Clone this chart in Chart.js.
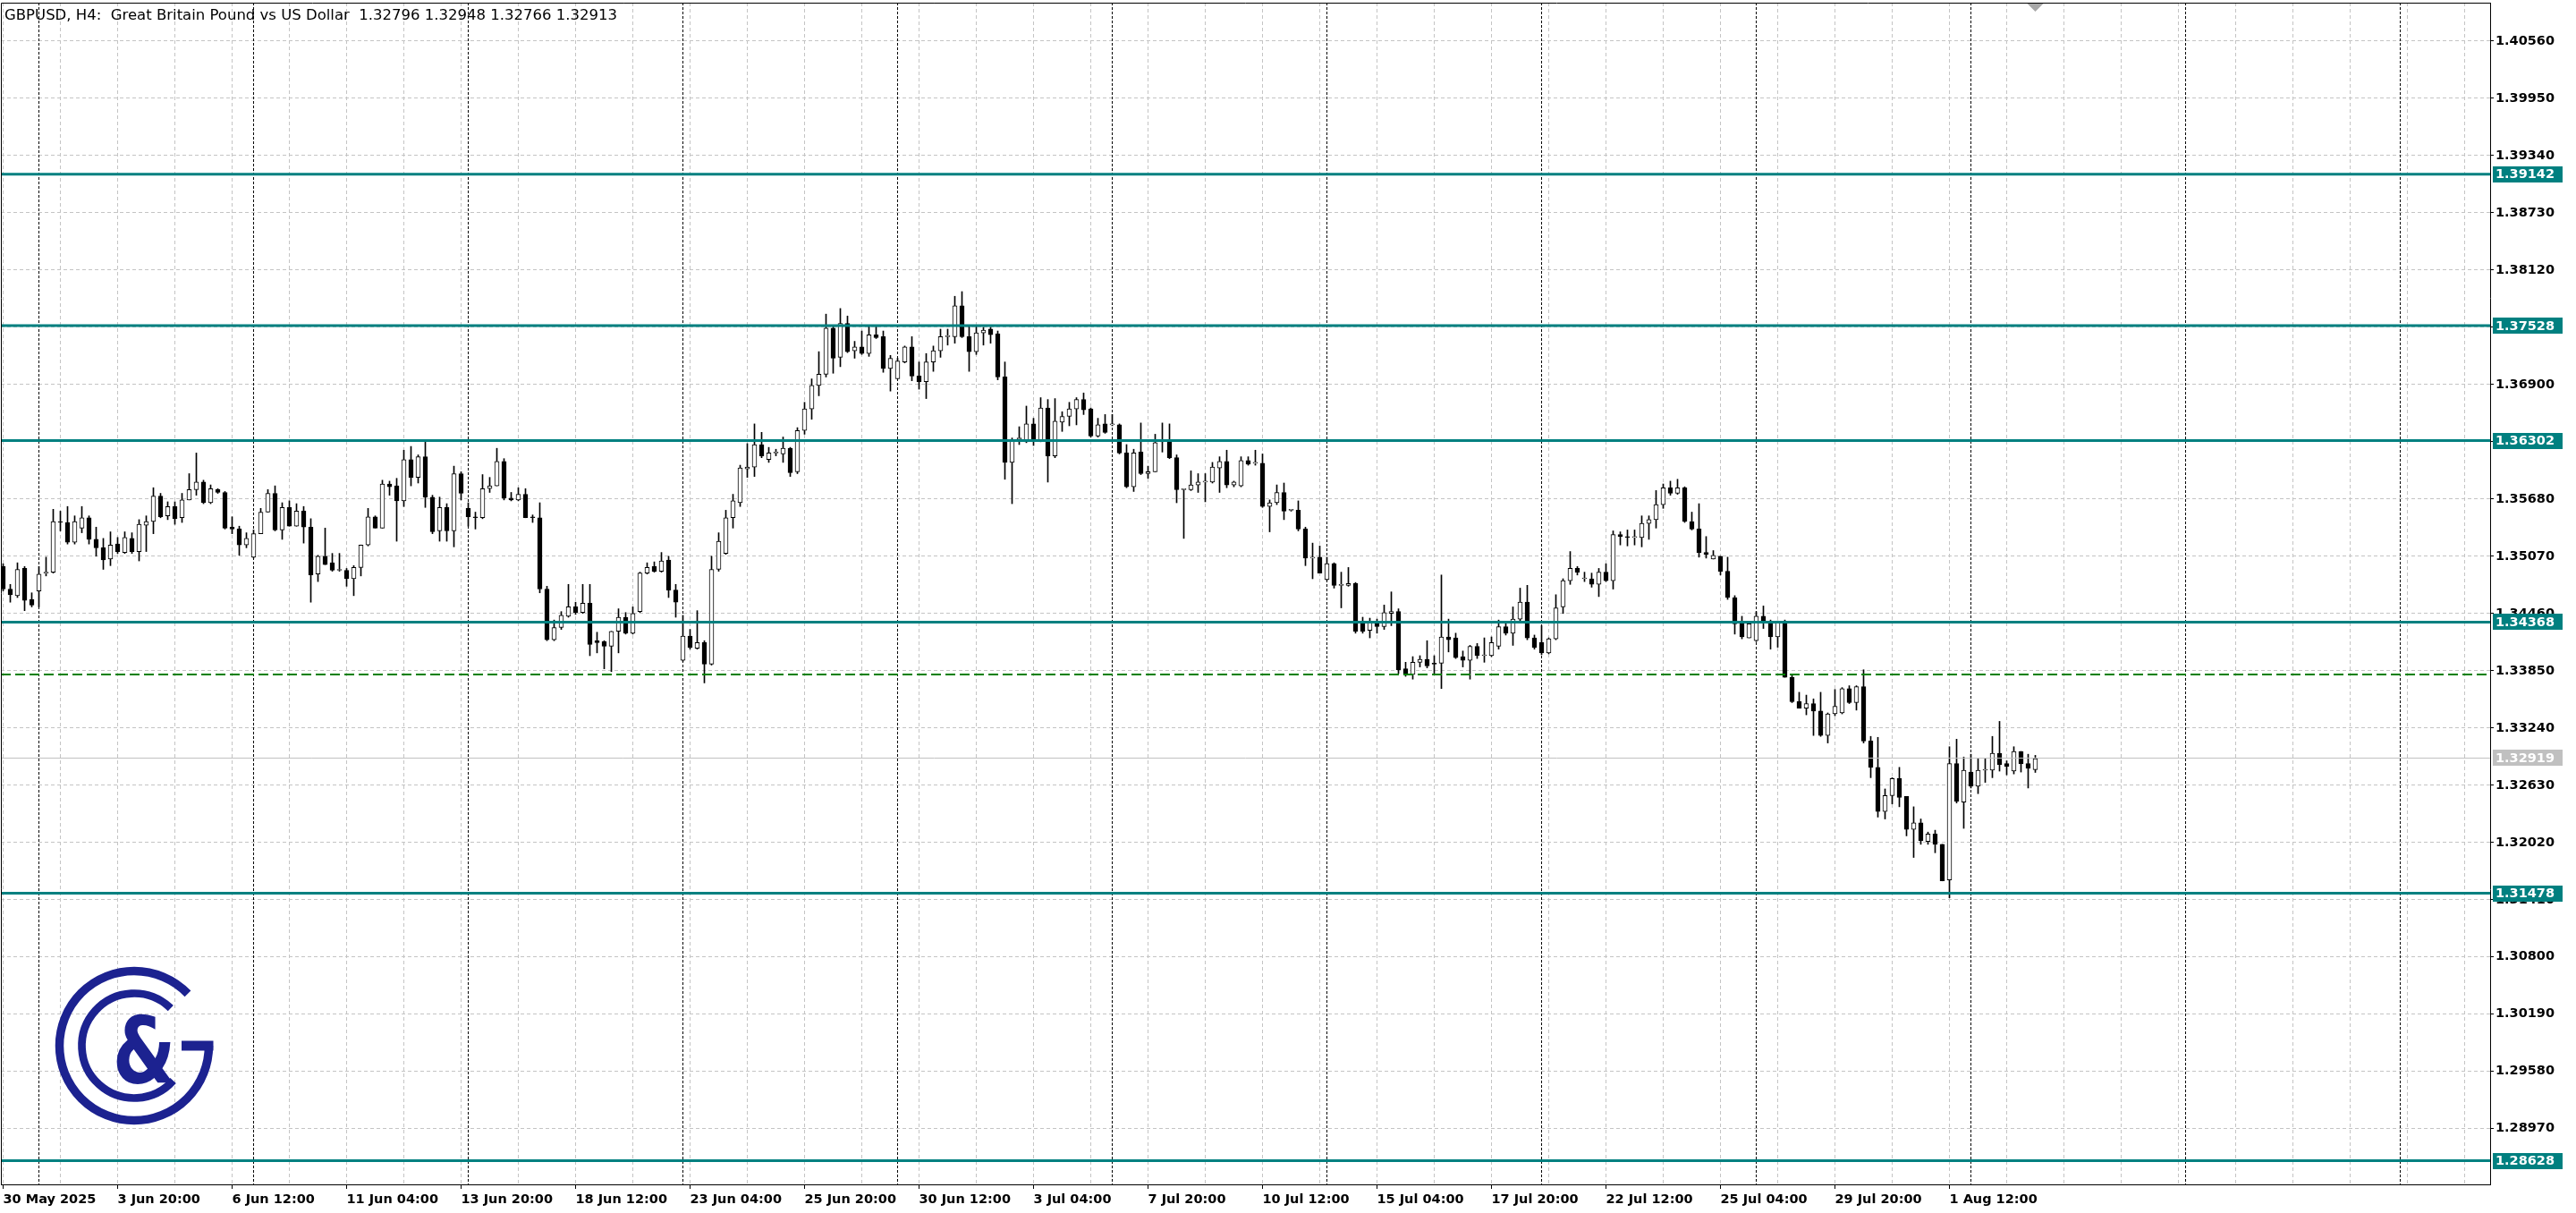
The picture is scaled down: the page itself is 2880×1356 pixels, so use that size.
<!DOCTYPE html>
<html lang="en">
<head>
<meta charset="utf-8">
<title>GBPUSD, H4</title>
<script src="https://cdn.jsdelivr.net/npm/chart.js@4.4.1/dist/chart.umd.min.js"></script>
<style>
  html, body { margin: 0; padding: 0; background: #ffffff; overflow: hidden; }
  #chart { display: block; }
</style>
</head>
<body>
<canvas id="chart" width="2880" height="1356"></canvas>
<script>
// H4 bars, index 0 = 30 May 2025 04:00 ... last = 5 Aug 2025 12:00
const opens = [
  1.3496, 1.3472, 1.3465, 1.3494, 1.3461, 1.3470, 1.3489, 1.3490, 1.3544, 1.3543,
  1.3522, 1.3537, 1.3548, 1.3525, 1.3516, 1.3504, 1.3520, 1.3511, 1.3526, 1.3512,
  1.3540, 1.3544, 1.3571, 1.3550, 1.3560, 1.3548, 1.3567, 1.3578, 1.3586, 1.3564,
  1.3578, 1.3575, 1.3538, 1.3536, 1.3519, 1.3506, 1.3531, 1.3554, 1.3574, 1.3535,
  1.3559, 1.3539, 1.3555, 1.3538, 1.3488, 1.3507, 1.3500, 1.3492, 1.3492, 1.3483,
  1.3495, 1.3519, 1.3549, 1.3537, 1.3584, 1.3582, 1.3566, 1.3610, 1.3591, 1.3613,
  1.3570, 1.3534, 1.3559, 1.3534, 1.3595, 1.3558, 1.3549, 1.3548, 1.3579, 1.3582,
  1.3608, 1.3569, 1.3567, 1.3573, 1.3549, 1.3548, 1.3472, 1.3418, 1.3431, 1.3443,
  1.3453, 1.3447, 1.3457, 1.3417, 1.3416, 1.3411, 1.3427, 1.3442, 1.3425, 1.3448,
  1.3489, 1.3496, 1.3491, 1.3503, 1.3471, 1.3396, 1.3422, 1.3409, 1.3415, 1.3392,
  1.3493, 1.3510, 1.3548, 1.3564, 1.3600, 1.3602, 1.3626, 1.3610, 1.3617, 1.3616,
  1.3622, 1.3597, 1.3641, 1.3664, 1.3689, 1.3701, 1.3750, 1.3719, 1.3755, 1.3726,
  1.3730, 1.3723, 1.3743, 1.3741, 1.3707, 1.3696, 1.3714, 1.3730, 1.3699, 1.3693,
  1.3714, 1.3726, 1.3741, 1.3741, 1.3774, 1.3741, 1.3725, 1.3745, 1.3749, 1.3744,
  1.3698, 1.3607, 1.3632, 1.3629, 1.3648, 1.3630, 1.3665, 1.3614, 1.3650, 1.3656,
  1.3664, 1.3674, 1.3664, 1.3635, 1.3648, 1.3647, 1.3647, 1.3617, 1.3581, 1.3618,
  1.3595, 1.3597, 1.3629, 1.3630, 1.3612, 1.3578, 1.3578, 1.3583, 1.3586, 1.3586,
  1.3601, 1.3608, 1.3583, 1.3582, 1.3609, 1.3606, 1.3606, 1.3560, 1.3564, 1.3575,
  1.3556, 1.3556, 1.3536, 1.3505, 1.3506, 1.3482, 1.3499, 1.3476, 1.3476, 1.3478,
  1.3436, 1.3428, 1.3436, 1.3432, 1.3446, 1.3448, 1.3387, 1.3381, 1.3394, 1.3397,
  1.3393, 1.3393, 1.3421, 1.3420, 1.3400, 1.3396, 1.3411, 1.3401, 1.3401, 1.3411,
  1.3432, 1.3425, 1.3440, 1.3458, 1.3420, 1.3415, 1.3404, 1.3419, 1.3453, 1.3481,
  1.3494, 1.3483, 1.3483, 1.3477, 1.3490, 1.3481, 1.3530, 1.3528, 1.3527, 1.3527,
  1.3542, 1.3546, 1.3562, 1.3580, 1.3574, 1.3580, 1.3544, 1.3536, 1.3511, 1.3504,
  1.3507, 1.3491, 1.3463, 1.3435, 1.3420, 1.3417, 1.3443, 1.3437, 1.3421, 1.3436,
  1.3378, 1.3352, 1.3345, 1.3350, 1.3342, 1.3316, 1.3339, 1.3340, 1.3366, 1.3351,
  1.3368, 1.3310, 1.3282, 1.3235, 1.3252, 1.3270, 1.3251, 1.3216, 1.3223, 1.3203,
  1.3211, 1.3200, 1.3162, 1.3286, 1.3245, 1.3277, 1.3262, 1.3279, 1.3279, 1.3297,
  1.3286, 1.3278, 1.3299, 1.3286, 1.32796
];
const highs = [
  1.3499, 1.3477, 1.3500, 1.3496, 1.3468, 1.3496, 1.3506, 1.3557, 1.3555, 1.3560,
  1.3550, 1.3560, 1.3550, 1.3538, 1.3526, 1.3533, 1.3527, 1.3533, 1.3532, 1.3546,
  1.3550, 1.3580, 1.3574, 1.3565, 1.3565, 1.3574, 1.3595, 1.3617, 1.3588, 1.3583,
  1.3579, 1.3576, 1.3549, 1.3539, 1.3532, 1.3535, 1.3558, 1.3578, 1.3582, 1.3564,
  1.3566, 1.3563, 1.3560, 1.3547, 1.3508, 1.3537, 1.3510, 1.3510, 1.3494, 1.3497,
  1.3519, 1.3558, 1.3550, 1.3588, 1.3587, 1.3590, 1.3620, 1.3624, 1.3615, 1.3630,
  1.3572, 1.3570, 1.3563, 1.3603, 1.3597, 1.3564, 1.3554, 1.3594, 1.3591, 1.3622,
  1.3611, 1.3575, 1.3580, 1.3579, 1.3551, 1.3564, 1.3475, 1.3439, 1.3448, 1.3477,
  1.3458, 1.3477, 1.3477, 1.3426, 1.3417, 1.3427, 1.3451, 1.3447, 1.3453, 1.3490,
  1.3500, 1.3501, 1.3511, 1.3507, 1.3477, 1.3444, 1.3429, 1.3449, 1.3417, 1.3507,
  1.3532, 1.3556, 1.3573, 1.3604, 1.3627, 1.3648, 1.3639, 1.3623, 1.3621, 1.3634,
  1.3623, 1.3644, 1.3671, 1.3696, 1.3725, 1.3765, 1.3753, 1.3771, 1.3763, 1.3736,
  1.3747, 1.3752, 1.3752, 1.3747, 1.3721, 1.3718, 1.3731, 1.3741, 1.3714, 1.3723,
  1.3731, 1.3749, 1.3749, 1.3784, 1.3789, 1.3752, 1.3752, 1.3751, 1.3751, 1.3747,
  1.3714, 1.3633, 1.3645, 1.3667, 1.3654, 1.3676, 1.3674, 1.3675, 1.3661, 1.3671,
  1.3676, 1.3681, 1.3665, 1.3654, 1.3658, 1.3658, 1.3648, 1.3626, 1.3621, 1.3649,
  1.3603, 1.3637, 1.3649, 1.3648, 1.3615, 1.3579, 1.3598, 1.3595, 1.3595, 1.3607,
  1.3613, 1.3620, 1.3587, 1.3613, 1.3613, 1.3620, 1.3616, 1.3567, 1.3583, 1.3585,
  1.3557, 1.3566, 1.3538, 1.3521, 1.3518, 1.3506, 1.3500, 1.3490, 1.3495, 1.3479,
  1.3442, 1.3441, 1.3440, 1.3455, 1.3469, 1.3451, 1.3394, 1.3400, 1.3401, 1.3417,
  1.3401, 1.3487, 1.3440, 1.3425, 1.3406, 1.3412, 1.3414, 1.3420, 1.3421, 1.3439,
  1.3437, 1.3453, 1.3473, 1.3476, 1.3423, 1.3433, 1.3420, 1.3466, 1.3483, 1.3512,
  1.3496, 1.3490, 1.3489, 1.3494, 1.3499, 1.3534, 1.3533, 1.3535, 1.3535, 1.3550,
  1.3550, 1.3577, 1.3584, 1.3587, 1.3589, 1.3581, 1.3554, 1.3563, 1.3528, 1.3513,
  1.3507, 1.3506, 1.3465, 1.3443, 1.3437, 1.3448, 1.3454, 1.3439, 1.3438, 1.3439,
  1.3380, 1.3362, 1.3359, 1.3355, 1.3362, 1.3340, 1.3365, 1.3367, 1.3369, 1.3369,
  1.3386, 1.3315, 1.3314, 1.3259, 1.3271, 1.3282, 1.3251, 1.3240, 1.3227, 1.3213,
  1.3215, 1.3200, 1.3304, 1.3312, 1.3293, 1.3296, 1.3291, 1.3291, 1.3315, 1.3331,
  1.3289, 1.3304, 1.3299, 1.3296, 1.32948
];
const lows = [
  1.3470, 1.3458, 1.3463, 1.3449, 1.3453, 1.3453, 1.3486, 1.3489, 1.3534, 1.3520,
  1.3520, 1.3532, 1.3520, 1.3507, 1.3493, 1.3497, 1.3510, 1.3510, 1.3510, 1.3502,
  1.3512, 1.3531, 1.3548, 1.3546, 1.3541, 1.3543, 1.3567, 1.3572, 1.3563, 1.3563,
  1.3574, 1.3536, 1.3531, 1.3508, 1.3516, 1.3505, 1.3531, 1.3554, 1.3534, 1.3525,
  1.3539, 1.3539, 1.3521, 1.3458, 1.3480, 1.3498, 1.3491, 1.3491, 1.3475, 1.3465,
  1.3486, 1.3518, 1.3537, 1.3537, 1.3572, 1.3523, 1.3560, 1.3582, 1.3585, 1.3559,
  1.3531, 1.3523, 1.3523, 1.3517, 1.3567, 1.3539, 1.3536, 1.3547, 1.3575, 1.3582,
  1.3567, 1.3566, 1.3566, 1.3548, 1.3543, 1.3468, 1.3417, 1.3417, 1.3429, 1.3442,
  1.3445, 1.3446, 1.3401, 1.3404, 1.3387, 1.3384, 1.3404, 1.3424, 1.3424, 1.3447,
  1.3488, 1.3490, 1.3490, 1.3463, 1.3442, 1.3395, 1.3408, 1.3408, 1.3372, 1.3391,
  1.3491, 1.3509, 1.3537, 1.3560, 1.3591, 1.3592, 1.3612, 1.3607, 1.3614, 1.3607,
  1.3592, 1.3595, 1.3637, 1.3653, 1.3678, 1.3698, 1.3702, 1.3709, 1.3724, 1.3718,
  1.3722, 1.3720, 1.3739, 1.3703, 1.3683, 1.3696, 1.3713, 1.3694, 1.3685, 1.3675,
  1.3704, 1.3719, 1.3732, 1.3734, 1.3740, 1.3704, 1.3722, 1.3732, 1.3734, 1.3695,
  1.3589, 1.3563, 1.3626, 1.3628, 1.3625, 1.3629, 1.3586, 1.3612, 1.3640, 1.3646,
  1.3647, 1.3658, 1.3634, 1.3634, 1.3638, 1.3646, 1.3616, 1.3580, 1.3576, 1.3594,
  1.3590, 1.3597, 1.3618, 1.3611, 1.3564, 1.3526, 1.3577, 1.3575, 1.3565, 1.3585,
  1.3575, 1.3580, 1.3581, 1.3581, 1.3604, 1.3604, 1.3559, 1.3533, 1.3562, 1.3546,
  1.3555, 1.3534, 1.3497, 1.3483, 1.3489, 1.3481, 1.3473, 1.3452, 1.3475, 1.3425,
  1.3425, 1.3420, 1.3425, 1.3429, 1.3433, 1.3382, 1.3379, 1.3376, 1.3389, 1.3388,
  1.3382, 1.3366, 1.3405, 1.3398, 1.3389, 1.3376, 1.3398, 1.3394, 1.3400, 1.3408,
  1.3423, 1.3412, 1.3436, 1.3418, 1.3408, 1.3402, 1.3403, 1.3418, 1.3446, 1.3477,
  1.3487, 1.3480, 1.3474, 1.3464, 1.3480, 1.3472, 1.3519, 1.3518, 1.3519, 1.3517,
  1.3525, 1.3537, 1.3558, 1.3572, 1.3573, 1.3543, 1.3535, 1.3506, 1.3505, 1.3504,
  1.3487, 1.3461, 1.3424, 1.3419, 1.3420, 1.3416, 1.3430, 1.3408, 1.3410, 1.3378,
  1.3351, 1.3345, 1.3338, 1.3316, 1.3315, 1.3308, 1.3337, 1.3339, 1.3350, 1.3343,
  1.3308, 1.3271, 1.3229, 1.3227, 1.3243, 1.3240, 1.3209, 1.3186, 1.3200, 1.3200,
  1.3191, 1.3161, 1.3143, 1.3244, 1.3217, 1.3260, 1.3254, 1.3266, 1.3271, 1.3278,
  1.3274, 1.3275, 1.3277, 1.3260, 1.32766
];
const closes = [
  1.3472, 1.3466, 1.3493, 1.3460, 1.3455, 1.3488, 1.3490, 1.3544, 1.3543, 1.3522,
  1.3544, 1.3548, 1.3525, 1.3516, 1.3503, 1.3519, 1.3512, 1.3527, 1.3512, 1.3541,
  1.3544, 1.3571, 1.3549, 1.3560, 1.3547, 1.3567, 1.3578, 1.3586, 1.3564, 1.3579,
  1.3575, 1.3537, 1.3536, 1.3519, 1.3526, 1.3531, 1.3554, 1.3574, 1.3535, 1.3559,
  1.3539, 1.3555, 1.3538, 1.3487, 1.3507, 1.3498, 1.3492, 1.3492, 1.3483, 1.3495,
  1.3519, 1.3549, 1.3537, 1.3584, 1.3581, 1.3566, 1.3610, 1.3591, 1.3613, 1.3570,
  1.3533, 1.3559, 1.3534, 1.3595, 1.3574, 1.3549, 1.3548, 1.3579, 1.3582, 1.3608,
  1.3569, 1.3567, 1.3573, 1.3548, 1.3548, 1.3472, 1.3418, 1.3431, 1.3444, 1.3453,
  1.3447, 1.3457, 1.3413, 1.3415, 1.3411, 1.3427, 1.3442, 1.3425, 1.3446, 1.3489,
  1.3495, 1.3491, 1.3502, 1.3471, 1.3458, 1.3422, 1.3410, 1.3415, 1.3392, 1.3493,
  1.3523, 1.3548, 1.3566, 1.3601, 1.3602, 1.3626, 1.3614, 1.3617, 1.3617, 1.3622,
  1.3596, 1.3641, 1.3664, 1.3689, 1.3701, 1.3750, 1.3718, 1.3755, 1.3725, 1.3730,
  1.3723, 1.3743, 1.3740, 1.3707, 1.3718, 1.3715, 1.3730, 1.3699, 1.3693, 1.3714,
  1.3726, 1.3741, 1.3741, 1.3774, 1.3741, 1.3725, 1.3745, 1.3748, 1.3743, 1.3698,
  1.3607, 1.3630, 1.3633, 1.3648, 1.3630, 1.3665, 1.3614, 1.3651, 1.3656, 1.3664,
  1.3674, 1.3663, 1.3635, 1.3647, 1.3639, 1.3647, 1.3617, 1.3581, 1.3617, 1.3595,
  1.3597, 1.3628, 1.3630, 1.3612, 1.3578, 1.3578, 1.3583, 1.3586, 1.3586, 1.3602,
  1.3608, 1.3583, 1.3586, 1.3609, 1.3605, 1.3606, 1.3560, 1.3564, 1.3575, 1.3555,
  1.3556, 1.3536, 1.3505, 1.3506, 1.3489, 1.3499, 1.3476, 1.3476, 1.3478, 1.3427,
  1.3427, 1.3436, 1.3432, 1.3447, 1.3448, 1.3386, 1.3381, 1.3394, 1.3397, 1.3390,
  1.3392, 1.3421, 1.3418, 1.3399, 1.3396, 1.3411, 1.3401, 1.3401, 1.3415, 1.3432,
  1.3425, 1.3440, 1.3458, 1.3420, 1.3410, 1.3404, 1.3419, 1.3452, 1.3481, 1.3494,
  1.3490, 1.3483, 1.3477, 1.3490, 1.3481, 1.3530, 1.3528, 1.3527, 1.3528, 1.3542,
  1.3546, 1.3562, 1.3580, 1.3574, 1.3580, 1.3544, 1.3536, 1.3511, 1.3509, 1.3508,
  1.3491, 1.3463, 1.3435, 1.3421, 1.3435, 1.3443, 1.3437, 1.3421, 1.3436, 1.3378,
  1.3352, 1.3345, 1.3350, 1.3342, 1.3316, 1.3339, 1.3347, 1.3366, 1.3351, 1.3368,
  1.3310, 1.3282, 1.3235, 1.3252, 1.3270, 1.3250, 1.3216, 1.3223, 1.3204, 1.3211,
  1.3200, 1.3161, 1.3286, 1.3246, 1.3279, 1.3262, 1.3279, 1.3279, 1.3297, 1.3285,
  1.3283, 1.3299, 1.3286, 1.3281, 1.32913
];

// time axis labels (bar index -> text)
const tickIdx = [0, 16, 32, 48, 64, 80, 96, 112, 128, 144, 160, 176, 192, 208, 224, 240, 256, 272];
const tickText = ['30 May 2025', '3 Jun 20:00', '6 Jun 12:00', '11 Jun 04:00', '13 Jun 20:00', '18 Jun 12:00',
  '23 Jun 04:00', '25 Jun 20:00', '30 Jun 12:00', '3 Jul 04:00', '7 Jul 20:00', '10 Jul 12:00',
  '15 Jul 04:00', '17 Jul 20:00', '22 Jul 12:00', '25 Jul 04:00', '29 Jul 20:00', '1 Aug 12:00'];
// Monday bars (period separators)
const weekStarts = [5, 35, 65, 95, 125, 155, 185, 215, 245, 275, 305, 335];

const priceTicks = [1.28970, 1.29580, 1.30190, 1.30800, 1.31410, 1.32020, 1.32630, 1.33240, 1.33850, 1.34460,
  1.35070, 1.35680, 1.36290, 1.36900, 1.37510, 1.38120, 1.38730, 1.39340, 1.39950, 1.40560];
const levels = [1.39142, 1.37528, 1.36302, 1.34368, 1.31478, 1.28628];
const dashedLevel = 1.3381;
const bidPrice = 1.32919;
const titleText = 'GBPUSD, H4:  Great Britain Pound vs US Dollar  1.32796 1.32948 1.32766 1.32913';

const TEAL = '#008080';
const NAVY = '#1c2290';
const GRID = '#c4c4c4';
const FONT = '"DejaVu Sans", Verdana, sans-serif';
const AXIS_FONT = { family: FONT, size: 14.5, weight: 'bold' };

const xMin = -0.3125, xMax = 347.5625;
const yMin = 1.28376, yMax = 1.40969;

const labelAt = new Map(tickIdx.map((k, i) => [k, tickText[i]]));
const gridTicks = [];
for (let k = 0; k <= 344; k += 8) gridTicks.push({ value: k });

const wickData = highs.map((h, i) => ({ x: i, y: [lows[i], h] }));
const bodyData = opens.map((o, i) => ({ x: i, y: [o, closes[i]] }));
const bodyFill = opens.map((o, i) => closes[i] >= o ? '#ffffff' : '#000000');

function hLine(v, color, width, dash) {
  return {
    type: 'line',
    data: [{ x: xMin, y: v }, { x: xMax, y: v }],
    borderColor: color,
    borderWidth: width,
    borderDash: dash,
    borderCapStyle: 'butt',
    pointRadius: 0,
    order: 1
  };
}

function drawLogo(ctx) {
  const cx = 150, cy = 1169;
  ctx.save();
  ctx.strokeStyle = NAVY;
  ctx.fillStyle = NAVY;
  ctx.lineCap = 'butt';
  ctx.lineWidth = 9.5;
  ctx.beginPath();
  ctx.arc(cx, cy, 83.5, 0, Math.PI * 2 - 0.77);
  ctx.stroke();
  ctx.fillRect(cx + 53, cy - 5.5, 35.5, 11);
  ctx.lineWidth = 8.7;
  ctx.beginPath();
  ctx.arc(cx, cy, 58.5, 0.73, Math.PI * 2 - 0.8);
  ctx.stroke();
  ctx.font = 'bold 104px ' + FONT;
  ctx.textAlign = 'center';
  ctx.textBaseline = 'alphabetic';
  ctx.translate(161, 1211);
  ctx.scale(0.78, 1);
  ctx.fillText('&', 0, 0);
  ctx.restore();
}

// drop the half-label padding Chart.js adds, so the plot keeps the MT5 frame
const noPad = s => { s.paddingTop = 0; s.paddingBottom = 0; s.paddingLeft = 0; s.paddingRight = 0; };

const decor = {
  id: 'decor',
  beforeDatasetsDraw(chart) {
    const { ctx, chartArea: a, scales: { x } } = chart;
    ctx.save();
    ctx.beginPath();
    ctx.rect(a.left, a.top, a.right - a.left, a.bottom - a.top);
    ctx.clip();
    ctx.strokeStyle = '#000';
    ctx.lineWidth = 1;
    ctx.setLineDash([3, 2]);
    weekStarts.forEach(k => {
      const px = Math.floor(x.getPixelForValue(k)) + 0.5;
      ctx.beginPath();
      ctx.moveTo(px, a.top);
      ctx.lineTo(px, a.bottom);
      ctx.stroke();
    });
    ctx.restore();
    drawLogo(ctx);
  },
  afterDraw(chart) {
    const { ctx, chartArea: a, scales: { x, y } } = chart;
    ctx.save();
    // frame (left / top)
    ctx.strokeStyle = '#000';
    ctx.lineWidth = 1;
    ctx.beginPath();
    ctx.moveTo(a.left + 0.5, a.bottom);
    ctx.lineTo(a.left + 0.5, a.top + 0.5);
    ctx.lineTo(a.right, a.top + 0.5);
    ctx.stroke();

    // shift marker
    const tx = x.getPixelForValue(opens.length - 1);
    ctx.fillStyle = '#a8a8a8';
    ctx.beginPath();
    ctx.moveTo(tx - 9, a.top + 1);
    ctx.lineTo(tx + 9, a.top + 1);
    ctx.lineTo(tx, a.top + 10);
    ctx.closePath();
    ctx.fill();

    // price labels of the lines
    ctx.font = 'bold 14.5px ' + FONT;
    ctx.textAlign = 'left';
    ctx.textBaseline = 'middle';
    const tag = (v, bg) => {
      const py = y.getPixelForValue(v);
      ctx.fillStyle = bg;
      ctx.fillRect(a.right + 3, Math.round(py) - 9, 78, 18);
      ctx.fillStyle = '#ffffff';
      ctx.fillText(v.toFixed(5), a.right + 6, py + 1);
    };
    levels.forEach(v => tag(v, TEAL));
    tag(bidPrice, '#c0c0c0');

    // title
    ctx.fillStyle = '#000';
    ctx.font = '16.5px ' + FONT;
    ctx.textBaseline = 'alphabetic';
    ctx.fillText(titleText, 5, 22);
    ctx.restore();
  }
};

new Chart(document.getElementById('chart'), {
  type: 'bar',
  data: {
    datasets: [
      ...levels.map(v => hLine(v, TEAL, 3, [])),
      hLine(dashedLevel, '#008000', 2, [11, 5]),
      hLine(bidPrice, '#c0c0c0', 1, []),
      {
        type: 'bar',
        data: bodyData,
        backgroundColor: bodyFill,
        borderColor: '#000000',
        borderWidth: 1,
        borderSkipped: false,
        barThickness: 5,
        minBarLength: 1,
        grouped: false,
        order: 2
      },
      {
        type: 'bar',
        data: wickData,
        backgroundColor: '#000000',
        borderWidth: 0,
        barThickness: 1,
        grouped: false,
        order: 3
      }
    ]
  },
  options: {
    responsive: false,
    animation: false,
    devicePixelRatio: 1,
    layout: { padding: { left: 1, top: 3, right: 0, bottom: 0 } },
    plugins: { legend: { display: false }, tooltip: { enabled: false } },
    scales: {
      x: {
        type: 'linear',
        min: xMin,
        max: xMax,
        offset: false,
        afterFit: s => { s.height = 32; noPad(s); },
        afterBuildTicks: s => { s.ticks = gridTicks.map(t => ({ value: t.value })); },
        grid: {
          offset: false,
          color: GRID,
          lineWidth: 1,
          drawTicks: true,
          tickLength: 5,
          tickColor: c => (c.tick && labelAt.has(c.tick.value)) ? '#000000' : 'rgba(0,0,0,0)'
        },
        border: { display: true, color: '#000000', width: 1, dash: [4, 3] },
        ticks: {
          autoSkip: false,
          maxRotation: 0,
          minRotation: 0,
          align: 'start',
          padding: 4,
          color: '#000000',
          font: AXIS_FONT,
          callback: v => labelAt.get(v) || ''
        }
      },
      y: {
        type: 'linear',
        position: 'right',
        min: yMin,
        max: yMax,
        afterFit: s => { s.width = 96; noPad(s); },
        afterBuildTicks: s => { s.ticks = priceTicks.map(v => ({ value: v })); },
        grid: {
          color: GRID,
          lineWidth: 1,
          drawTicks: true,
          tickLength: 4,
          tickColor: '#000000'
        },
        border: { display: true, color: '#000000', width: 1, dash: [4, 3] },
        ticks: {
          padding: 2,
          color: '#000000',
          font: AXIS_FONT,
          callback: v => v.toFixed(5)
        }
      }
    }
  },
  plugins: [decor]
});
</script>
</body>
</html>
